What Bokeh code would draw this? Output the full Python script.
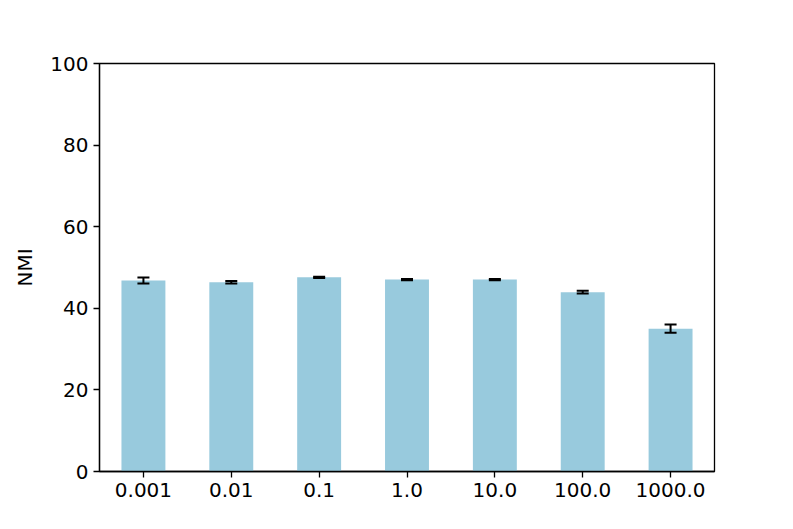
from bokeh.plotting import figure
from bokeh.models import FactorRange, Range1d, ColumnDataSource, Whisker, TeeHead, FixedTicker
from bokeh.embed import file_html
from bokeh.resources import INLINE

categories = ["0.001", "0.01", "0.1", "1.0", "10.0", "100.0", "1000.0"]
nmi_mean = [46.8, 46.4, 47.6, 47.05, 47.05, 43.95, 35.0]
nmi_err = [0.75, 0.3, 0.15, 0.15, 0.15, 0.35, 1.0]
y_ticks = [0, 20, 40, 60, 80, 100]

src = ColumnDataSource(dict(
    x=categories,
    top=nmi_mean,
    upper=[m + e for m, e in zip(nmi_mean, nmi_err)],
    lower=[m - e for m, e in zip(nmi_mean, nmi_err)],
))

p = figure(width=777, height=513, x_range=FactorRange(*categories, range_padding=0),
           y_range=Range1d(0, 100), output_backend="svg", toolbar_location=None,
           min_border_left=99, min_border_right=63, min_border_top=63, min_border_bottom=42)
p.x_range.range_padding = 0

p.vbar(x="x", top="top", width=0.5, source=src, fill_color="#98cadd", line_color=None)

w = Whisker(base="x", upper="upper", lower="lower", source=src,
            line_color="black", line_width=2, level="overlay",
            upper_head=TeeHead(size=12, line_color="black", line_width=2),
            lower_head=TeeHead(size=12, line_color="black", line_width=2))
p.add_layout(w)

p.xgrid.visible = False
p.ygrid.visible = False
p.outline_line_color = "black"
p.outline_line_width = 1.3
p.outline_line_alpha = 1

p.yaxis.ticker = FixedTicker(ticks=y_ticks)
p.yaxis.minor_tick_line_color = None
p.yaxis.axis_label = "NMI"
p.yaxis.axis_label_standoff = 10
p.yaxis.axis_label_text_font_style = "normal"

for ax in (p.xaxis, p.yaxis):
    ax.axis_line_color = "black"
    ax.axis_line_width = 1.3
    ax.major_tick_line_color = "black"
    ax.major_tick_line_width = 1.3
    ax.major_tick_out = 6
    ax.major_tick_in = 0
    ax.major_label_text_font = "DejaVu Sans"
    ax.major_label_text_font_size = "20px"
    ax.major_label_text_color = "black"
    ax.axis_label_text_font = "DejaVu Sans"
    ax.axis_label_text_font_size = "20px"
    ax.axis_label_text_color = "black"
    ax.major_label_standoff = 5

open("out.html", "w").write(file_html(p, INLINE))
